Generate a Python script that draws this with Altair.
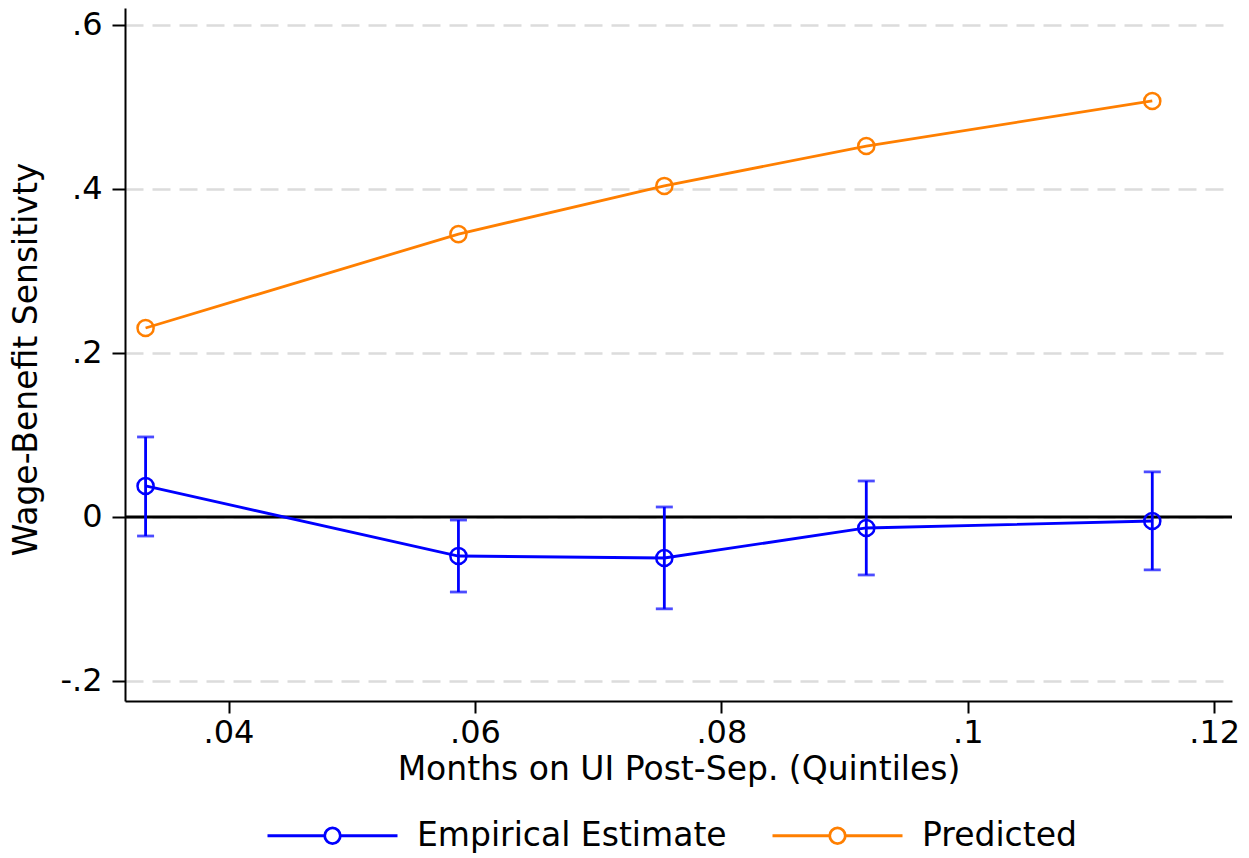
import altair as alt
import pandas as pd

# ---- data ----
months = [0.03327, 0.05866, 0.07537, 0.09176, 0.11497]
empirical = [0.0378, -0.0476, -0.0500, -0.0134, -0.0049]
emp_lo = [-0.0232, -0.0915, -0.1120, -0.0707, -0.0646]
emp_hi = [0.0976, -0.0037, 0.0122, 0.0439, 0.0549]
predicted = [0.2305, 0.3450, 0.4037, 0.4524, 0.5073]
series_names = ["Empirical Estimate", "Predicted"]
series_colors = ["#0000ff", "#ff7f00"]
x_ticks = [0.04, 0.06, 0.08, 0.10, 0.12]
y_ticks = [-0.2, 0.0, 0.2, 0.4, 0.6]
zero_line = [0.0]

FONT = "DejaVu Sans"

rows = []
for i, m in enumerate(months):
    rows.append({"x": m, "y": empirical[i], "lo": emp_lo[i], "hi": emp_hi[i], "series": series_names[0]})
for i, m in enumerate(months):
    rows.append({"x": m, "y": predicted[i], "lo": None, "hi": None, "series": series_names[1]})
df = pd.DataFrame(rows)
emp_df = df[df.series == series_names[0]]
zero_df = pd.DataFrame({"z": zero_line})

x_scale = alt.Scale(domain=[0.0316, 0.12144], nice=False, zero=False)
y_scale = alt.Scale(domain=[-0.2244, 0.6207], nice=False, zero=False)
color_scale = alt.Scale(domain=series_names, range=series_colors)

x_enc = alt.X("x:Q", scale=x_scale, title="Months on UI Post-Sep. (Quintiles)",
              axis=alt.Axis(values=x_ticks, grid=False, tickSize=12, labelPadding=4,
                            titleY=78, titleBaseline="alphabetic",
                            labelExpr="replace(format(datum.value, '.2~f'), '0.', '.')"))
y_enc = alt.Y("y:Q", scale=y_scale, title="Wage-Benefit Sensitivty",
              axis=alt.Axis(values=y_ticks, grid=True, tickSize=13, labelPadding=10,
                            titleX=-99, titleY=351, titleBaseline="middle",
                            labelExpr="datum.value == 0 ? '0' : replace(replace(format(datum.value, '.1f'), '0.', '.'), '\u2212', '-')"))

base = alt.Chart(df)

zero = alt.Chart(zero_df).mark_rule(color="black", strokeWidth=2.8).encode(
    y=alt.Y("z:Q", scale=y_scale))

lines = base.mark_line(strokeWidth=2.8).encode(
    x=x_enc, y=y_enc,
    color=alt.Color("series:N", scale=color_scale,
                    legend=alt.Legend(title=None, orient="none", direction="horizontal",
                                      legendX=191, legendY=811)),
    order="x:Q")

points = base.mark_point(shape="circle", filled=False, size=260, strokeWidth=2.5, opacity=1).encode(
    x=alt.X("x:Q", scale=x_scale), y=alt.Y("y:Q", scale=y_scale),
    color=alt.Color("series:N", scale=color_scale, legend=None))

err = alt.Chart(emp_df).mark_rule(color=series_colors[0], strokeWidth=2.8).encode(
    x=alt.X("x:Q", scale=x_scale), y=alt.Y("lo:Q", scale=y_scale), y2="hi:Q")

cap_lo = alt.Chart(emp_df).mark_tick(color=series_colors[0], orient="horizontal", size=17, thickness=2.8).encode(
    x=alt.X("x:Q", scale=x_scale), y=alt.Y("lo:Q", scale=y_scale))
cap_hi = alt.Chart(emp_df).mark_tick(color=series_colors[0], orient="horizontal", size=17, thickness=2.8).encode(
    x=alt.X("x:Q", scale=x_scale), y=alt.Y("hi:Q", scale=y_scale))

chart = alt.layer(zero, lines, err, cap_lo, cap_hi, points).properties(
    width=1107, height=693,
    padding={"left": 2, "top": 0, "right": 0, "bottom": 0},
).configure_view(stroke=None).configure_axis(
    labelFont=FONT, titleFont=FONT, labelFontSize=32, titleFontSize=33,
    labelColor="black", titleColor="black", titleFontWeight="normal",
    domainColor="black", domainWidth=2, tickColor="black", tickWidth=2,
    gridColor="#dcdcdc", gridWidth=2.5, gridDash=[18, 9],
).configure_legend(
    labelFont=FONT, labelFontSize=33, labelColor="black", labelLimit=600,
    symbolType="M-5,0H-0.6M0.6,0H5M0.6,0A0.6,0.6,0,1,1,-0.6,0A0.6,0.6,0,1,1,0.6,0",
    symbolSize=676, symbolStrokeWidth=2.8, symbolFillColor="transparent",
    labelOffset=68, columnPadding=39, padding=0,
)

chart.save("out.html", embed_options={"renderer": "svg", "actions": False})
